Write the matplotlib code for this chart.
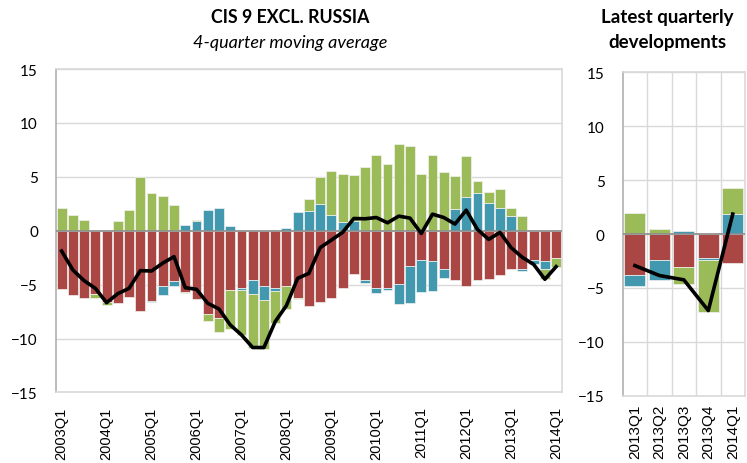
import numpy as np
import matplotlib
matplotlib.use('Agg')
import matplotlib.pyplot as plt

# quarters 2003Q1 .. 2014Q1 (4-quarter moving average)
quarters = ['%dQ%d' % (y, q) for y in range(2003, 2015) for q in range(1, 5)][:45]

red_ma = [-5.4, -5.93, -6.27, -5.86, -6.64, -6.7, -6.17, -7.44, -6.48, -5.15,
          -4.69, -5.65, -6.3, -7.72, -8.09, -5.49, -5.31, -4.57, -5.15, -5.28,
          -5.15, -6.2, -6.94, -6.57, -6.27, -5.34, -4.04, -4.57, -5.28, -5.34,
          -4.91, -3.24, -2.75, -2.84, -3.52, -4.57, -5.15, -4.57, -4.48, -4.1,
          -3.52, -3.52, -2.72, -2.84, -2.56]
blue_ma = [0, 0, 0, 0, 0, 0, 0, 0, -0.12, -0.77,
           -0.46, 0.49, 0.86, 1.94, 2.13, 0.4, -0.15, -1.33, -1.3, -0.31,
           0.22, 1.73, 1.82, 2.47, 1.45, 0.77, 0.9, -0.28, -0.52, -0.19,
           -1.88, -3.43, -2.9, -2.78, -0.86, 2.0, 3.09, 3.46, 2.59, 2.1,
           1.36, -0.19, -0.37, -0.74, 0.09]
green_ma = [2.13, 1.48, 0.96, -0.4, -0.25, 0.86, 1.94, 5.0, 3.46, 3.27,
            2.41, -0.15, 0.1, -0.68, -1.27, -3.64, -4.2, -4.94, -4.54, -3.0,
            -2.1, -0.15, 1.17, 2.53, 4.11, 4.51, 4.29, 5.96, 7.0, 6.23,
            8.06, 7.87, 5.28, 7.0, 5.46, 3.09, 3.82, 1.14, 0.96, 1.82,
            0.74, 1.36, 0.09, -0.93, -0.8]
total_ma = [-1.88, -3.64, -4.63, -5.34, -6.67, -5.83, -5.34, -3.7, -3.73, -3.0,
            -2.4, -5.28, -5.43, -6.73, -7.25, -8.73, -9.66, -10.83, -10.83, -8.43,
            -6.94, -4.41, -3.95, -1.57, -0.86, -0.15, 1.14, 1.11, 1.23, 0.74,
            1.36, 1.17, -0.25, 1.54, 1.23, 0.62, 1.91, 0.12, -0.8, -0.15,
            -1.57, -2.47, -3.12, -4.5, -3.33]

# latest quarters
quarters_q = ['2013Q1', '2013Q2', '2013Q3', '2013Q4', '2014Q1']
red_q = [-3.79, -2.4, -3.02, -2.19, -2.71]
blue_q = [-0.99, -1.91, 0.25, -0.22, 1.88]
green_q = [1.91, 0.49, -1.6, -4.78, 2.41]
total_q = [-2.93, -3.85, -4.25, -7.1, 1.85]

RED = '#AA4643'
BLUE = '#4198AF'
GREEN = '#9BBB59'
GRID = '#D9D9D9'


def stacked(ax, series, colors, width):
    x = np.arange(len(series[0]))
    pos = np.zeros(len(x))
    neg = np.zeros(len(x))
    for vals, c in zip(series, colors):
        v = np.array(vals, dtype=float)
        bottom = np.where(v >= 0, pos, neg)
        ax.bar(x, v, width, bottom=bottom, color=c, edgecolor='#F2F2F2',
               linewidth=0.5, zorder=2)
        pos = pos + np.clip(v, 0, None)
        neg = neg + np.clip(v, None, 0)
    return x


def style(ax, labels, step, xsize, xpad):
    ax.set_ylim(-15, 15)
    ax.set_yticks(range(-15, 16, 5))
    ax.set_xlim(-0.5, len(labels) - 0.5)
    ax.set_xticks(range(0, len(labels), step))
    ax.set_xticklabels(labels[::step], rotation=90, family='Liberation Sans', fontsize=xsize)
    for t in ax.get_yticklabels():
        t.set_family('Lato')
        t.set_fontsize(11)
    ax.tick_params(length=0)
    ax.tick_params(axis='x', pad=xpad)
    ax.tick_params(axis='y', pad=13)
    ax.grid(axis='y', color=GRID, linewidth=1, zorder=0)
    ax.axhline(0, color='#8C8C8C', linewidth=1.2, zorder=3)
    for s in ax.spines.values():
        s.set_color('#D9D9D9')
        s.set_linewidth(1.2)
    ax.spines['left'].set_color('#B0B0B0')
    ax.set_axisbelow(True)


fig = plt.figure(figsize=(7.47, 4.64), dpi=100)
ax1 = fig.add_axes([0.075, 0.152, 0.677, 0.697])
ax2 = fig.add_axes([0.8336, 0.145, 0.1637, 0.697])

x1 = stacked(ax1, [red_ma, blue_ma, green_ma], [RED, BLUE, GREEN], 0.88)
ax1.plot(x1, total_ma, color='black', linewidth=2.6, zorder=4)
style(ax1, quarters, 4, 10.5, 10)

x2 = stacked(ax2, [red_q, blue_q, green_q], [RED, BLUE, GREEN], 0.86)
ax2.plot(x2, total_q, color='black', linewidth=2.6, zorder=4)
style(ax2, quarters_q, 1, 11, 6)
for b in np.arange(0.5, 4.5, 1):
    ax2.axvline(b, color=GRID, linewidth=1, zorder=0)

fig.text(0.388, 0.963, 'CIS 9 EXCL. RUSSIA', ha='center', va='center',
         family='Lato', fontweight='bold', fontsize=12.8)
fig.text(0.388, 0.908, '4-quarter moving average', ha='center', va='center',
         family='Lato', style='italic', fontsize=13)
fig.text(0.893, 0.963, 'Latest quarterly', ha='center', va='center',
         family='Lato', fontweight='bold', fontsize=13.5)
fig.text(0.893, 0.908, 'developments', ha='center', va='center',
         family='Lato', fontweight='bold', fontsize=13.5)

fig.savefig('out.png', dpi=100)
